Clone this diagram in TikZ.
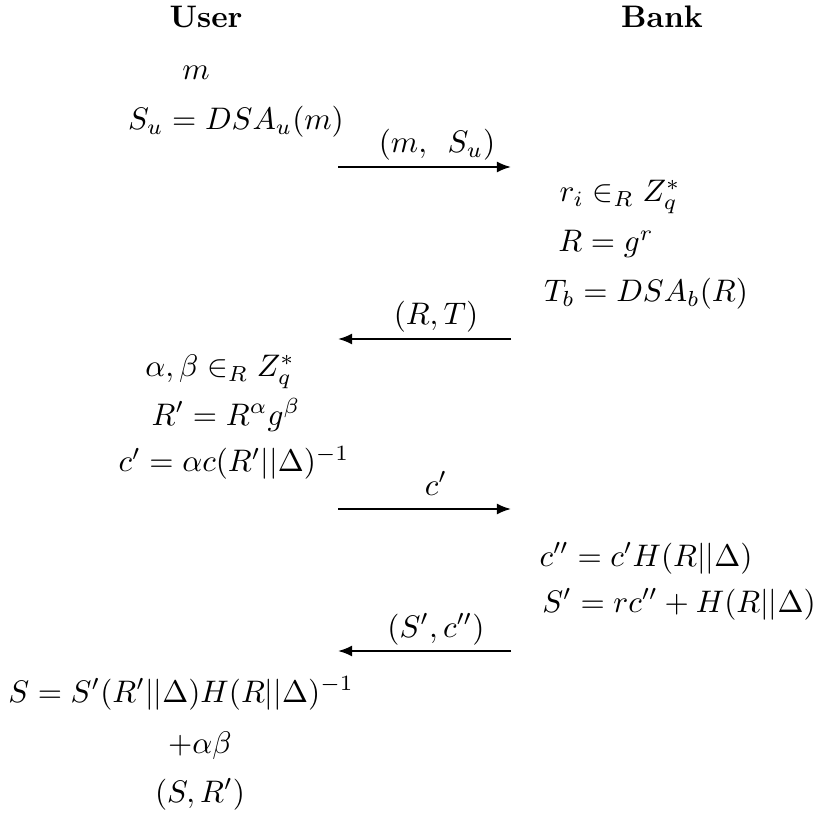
\documentclass[tikz,border=0pt]{standalone}
\usetikzlibrary{arrows.meta}
\begin{document}
\begin{tikzpicture}[x=0.321pt,y=-0.321pt,
  txt/.style={anchor=base,inner sep=0pt,outer sep=0pt},
  msg/.style={-{Latex[length=4.5pt,width=3.5pt]},line width=0.6pt}]
\useasboundingbox (0,0) rectangle (816,829);
\node[txt,font=\bfseries] (user) at (206,28) {User};
\node[txt,font=\bfseries] (bank) at (662,28) {Bank};
\node[txt] (u1) at (196,80) {$m$};
\node[txt] (u2) at (236,130) {$S_u = DSA_u(m)$};
\coordinate (a1s) at (338,167);
\coordinate (a1e) at (511,167);
\draw[msg] (a1s) -- (a1e);
\node[txt] (l1) at (437,153) {$(m,\enspace S_u)$};
\node[txt] (b1) at (620,202) {$r_i \in_R Z_q^*$};
\node[txt] (b2) at (606,252) {$R = g^r$};
\node[txt] (b3) at (646,302) {$T_b = DSA_b(R)$};
\coordinate (a2s) at (511,339);
\coordinate (a2e) at (338,339);
\draw[msg] (a2s) -- (a2e);
\node[txt] (l2) at (436,325) {$(R,T)$};
\node[txt] (u3) at (220,377) {$\alpha,\beta \in_R Z_q^*$};
\node[txt] (u4) at (226,425) {$R' = R^\alpha g^\beta$};
\node[txt] (u5) at (234,472) {$c' = \alpha c(R'||\Delta)^{-1}$};
\coordinate (a3s) at (338,509);
\coordinate (a3e) at (511,509);
\draw[msg] (a3s) -- (a3e);
\node[txt] (l3) at (436,495) {$c'$};
\node[txt] (b4) at (646,566) {$c'' = c'H(R||\Delta)$};
\node[txt] (b5) at (679,612) {$S' = rc'' + H(R||\Delta)$};
\coordinate (a4s) at (511,651);
\coordinate (a4e) at (338,651);
\draw[msg] (a4s) -- (a4e);
\node[txt] (l4) at (436,637) {$(S', c'')$};
\node[txt] (u6) at (181,702) {$S = S'(R'||\Delta)H(R||\Delta)^{-1}$};
\node[txt] (u7) at (200,753) {$+\alpha\beta$};
\node[txt] (u8) at (200,802) {$(S,R')$};
\end{tikzpicture}
\end{document}
